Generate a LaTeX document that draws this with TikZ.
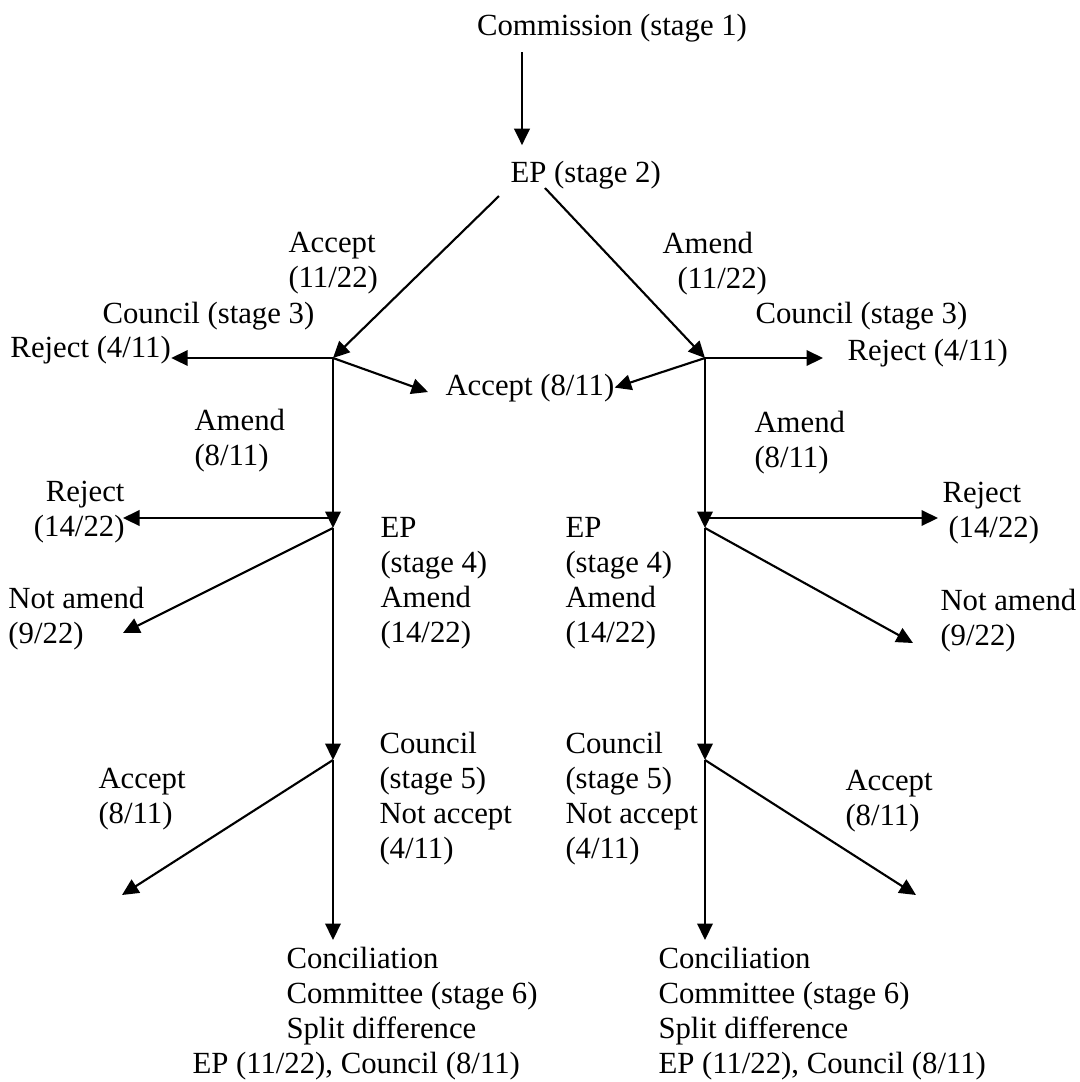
\documentclass[tikz,border=0pt]{standalone}
\usepackage{fontspec}
\setmainfont{Liberation Serif}
\usetikzlibrary{arrows.meta}

\begin{document}
\begin{tikzpicture}[x=0.4pt,y=-0.4pt,
	lbl/.style={inner sep=0pt,font=\fontsize{12.3pt}{14pt}\selectfont},
	blk/.style={lbl,align=left,anchor=north west},
	arr/.style={line width=0.85pt,-{Triangle[length=6.6pt,width=6.2pt]}}]
	\useasboundingbox (0,0) rectangle (1080,1082);

	% labels
	\node[lbl,anchor=base] (com) at (612,35) {Commission (stage 1)};
	\node[lbl,anchor=base west] (ep2) at (510,182) {EP (stage 2)};
	\node[blk] (accL) at (288,232) {Accept\\(11/22)};
	\node[blk] (amdR) at (662,232) {Amend\\\hspace*{6pt}(11/22)};
	\node[lbl,anchor=base west] (cnlL) at (102,323) {Council (stage 3)};
	\node[lbl,anchor=base west] (rejL) at (10,357) {Reject (4/11)};
	\node[lbl,anchor=base west] (cnlR) at (755,323) {Council (stage 3)};
	\node[lbl,anchor=base west] (rejR) at (847,360) {Reject (4/11)};
	\node[lbl,anchor=base west] (acc) at (445,395) {Accept (8/11)};
	\node[blk] (amdL3) at (194,409) {Amend\\(8/11)};
	\node[blk] (amdR3) at (754,411) {Amend\\(8/11)};
	\node[blk,align=right,anchor=north east] (rejL4) at (125,481) {Reject\\(14/22)};
	\node[blk] (rejR4) at (942,482) {Reject\\\hspace*{2.4pt}(14/22)};
	\node[blk] (notL) at (8,587) {Not amend\\(9/22)};
	\node[blk] (notR) at (940,589) {Not amend\\(9/22)};
	\node[blk] (epL) at (380,517) {EP\\(stage 4)\\Amend\\(14/22)};
	\node[blk] (epR) at (565,517) {EP\\(stage 4)\\Amend\\(14/22)};
	\node[blk] (cnlL5) at (379,732) {Council\\(stage 5)\\Not accept\\(4/11)};
	\node[blk] (cnlR5) at (565,732) {Council\\(stage 5)\\Not accept\\(4/11)};
	\node[blk] (accL5) at (98,768) {Accept\\(8/11)};
	\node[blk] (accR5) at (845,770) {Accept\\(8/11)};
	\node[blk] (ccL) at (192,947) {\hspace*{37.6pt}Conciliation\\\hspace*{37.6pt}Committee (stage 6)\\\hspace*{37.6pt}Split difference\\EP (11/22), Council (8/11)};
	\node[blk] (ccR) at (658,947) {Conciliation\\Committee (stage 6)\\Split difference\\EP (11/22), Council (8/11)};

	% junctions and free ends
	\coordinate (cx) at (522,100);
	\coordinate (s2L) at (499,196);
	\coordinate (s2R) at (545,188);
	\coordinate (j3L) at (333,358);
	\coordinate (j3R) at (705,358);
	\coordinate (tAL) at (428,392);
	\coordinate (tRR) at (823,358);
	\coordinate (j4L) at (333,528);
	\coordinate (j4R) at (705,528);
	\coordinate (tR4L) at (123,518);
	\coordinate (tR4R) at (938,518);
	\coordinate (tN4L) at (123,633);
	\coordinate (tN4R) at (913,643);
	\coordinate (j5L) at (333,760);
	\coordinate (j5R) at (705,760);
	\coordinate (tA5L) at (122,895);
	\coordinate (tA5R) at (916,895);
	\coordinate (t6L) at (333,940);
	\coordinate (t6R) at (705,940);

	\draw[arr,shorten <=4pt,shorten >=6pt] (com.south -| cx) -- (ep2.north -| cx);
	\draw[arr] (s2L) -- (j3L);
	\draw[arr] (s2R) -- (j3R);

	% left branch
	\draw[arr] (j3L) -- (j3L -| rejL.east);
	\draw[arr] (j3L) -- (tAL);
	\draw[arr] (j3L) -- (j4L);
	\draw[arr] (j4L |- tR4L) -- (tR4L);
	\draw[arr] (j4L) -- (tN4L);
	\draw[arr] (j4L) -- (j5L);
	\draw[arr] (j5L) -- (tA5L);
	\draw[arr] (j5L) -- (t6L);

	% right branch
	\draw[arr] (j3R) -- (tRR);
	\draw[arr] (j3R) -- (acc.east);
	\draw[arr] (j3R) -- (j4R);
	\draw[arr] (j4R |- tR4R) -- (tR4R);
	\draw[arr] (j4R) -- (tN4R);
	\draw[arr] (j4R) -- (j5R);
	\draw[arr] (j5R) -- (tA5R);
	\draw[arr] (j5R) -- (t6R);
\end{tikzpicture}
\end{document}
